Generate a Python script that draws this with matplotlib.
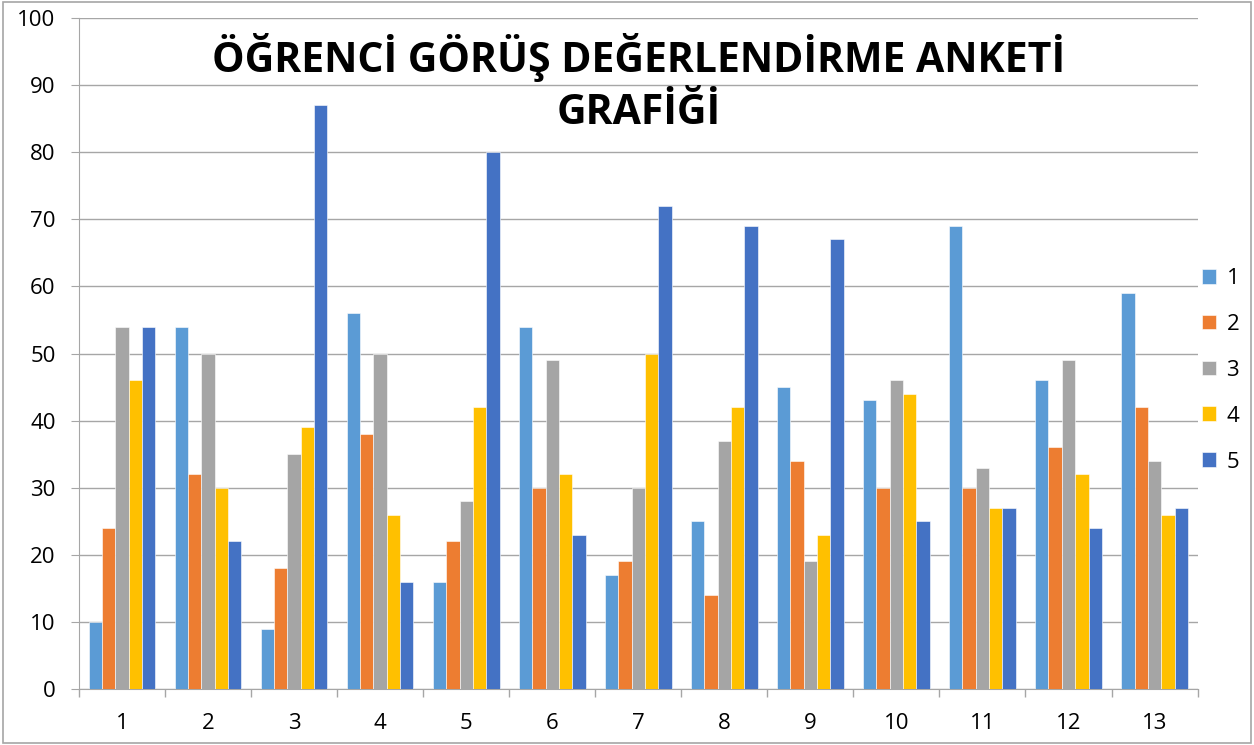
import matplotlib.pyplot as plt
import numpy as np
from matplotlib.patches import Rectangle

plt.rcParams['font.family'] = ['Open Sans', 'DejaVu Sans']

groups = [str(i) for i in range(1, 14)]
series_names = ["1", "2", "3", "4", "5"]
s1 = [10, 54, 9, 56, 16, 54, 17, 25, 45, 43, 69, 46, 59]
s2 = [24, 32, 18, 38, 22, 30, 19, 14, 34, 30, 30, 36, 42]
s3 = [54, 50, 35, 50, 28, 49, 30, 37, 19, 46, 33, 49, 34]
s4 = [46, 30, 39, 26, 42, 32, 50, 42, 23, 44, 27, 32, 26]
s5 = [54, 22, 87, 16, 80, 23, 72, 69, 67, 25, 27, 24, 27]
colors = ["#5B9BD5", "#ED7D31", "#A5A5A5", "#FFC000", "#4472C4"]

fig = plt.figure(figsize=(12.54, 7.45), dpi=100)
fig.add_artist(Rectangle((0.002, 0.003), 0.996, 0.994, transform=fig.transFigure,
                         fill=False, edgecolor="#a6a6a6", linewidth=1.2))
ax = fig.add_axes([0.063, 0.0752, 0.892, 0.9006])

x = np.arange(len(groups))
w = 0.155
for i, (vals, c, name) in enumerate(zip([s1, s2, s3, s4, s5], colors, series_names)):
    pos = x + (i - 2) * w
    ax.bar(pos, vals, width=w, color=c, edgecolor="white", linewidth=0.4,
           label=name, zorder=3)

ax.set_xlim(-0.5, len(groups) - 0.5)
ax.set_ylim(0, 100)
ax.set_yticks(range(0, 101, 10))
ax.tick_params(axis='y', length=5.8, color="#a6a6a6", labelsize=16, pad=11)
ax.set_xticks(x)
ax.set_xticklabels(groups, fontsize=16)
ax.tick_params(axis='x', length=0, pad=17)
ax.set_xticks(np.arange(-0.5, len(groups), 1), minor=True)
ax.tick_params(axis='x', which='minor', length=6, color="#a6a6a6", width=1)
ax.grid(axis='y', color="#a6a6a6", linewidth=1, zorder=0)
for s in ["top", "right"]:
    ax.spines[s].set_visible(False)
ax.spines["left"].set_color("#a6a6a6")
ax.spines["bottom"].set_color("#a6a6a6")

ax.text(0.5, 0.903, "ÖĞRENCİ GÖRÜŞ DEĞERLENDİRME ANKETİ\nGRAFİĞİ", transform=ax.transAxes,
        ha="center", va="center", fontsize=29.5, fontweight="bold", linespacing=1.35,
        zorder=5)

ax.legend(loc="center left", bbox_to_anchor=(1.0, 0.475), frameon=False, fontsize=16,
          handlelength=0.65, handleheight=0.65, labelspacing=1.12, handletextpad=0.45,
          borderaxespad=0, borderpad=0.2)

plt.savefig("out.png", dpi=100)
